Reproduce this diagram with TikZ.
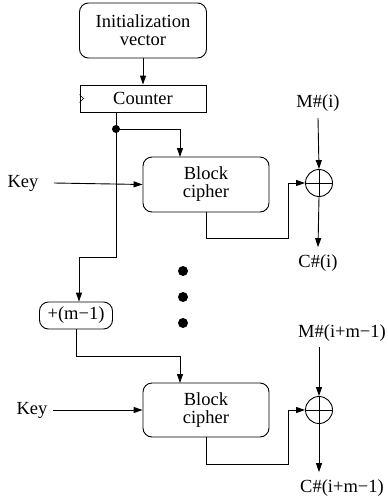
\documentclass[tikz,border=0pt]{standalone}
\usepackage{fontspec}
\setmainfont{Liberation Serif}
\usetikzlibrary{arrows.meta,calc}
\begin{document}
\begin{tikzpicture}[x=1pt,y=-1pt,
  line width=0.9pt,
  >={Triangle[length=9pt,width=6pt]},
  every node/.style={font=\fontsize{18.5}{18}\selectfont, inner sep=0pt, align=center},
  rbox/.style={draw, rounded corners=9pt},
  sbox/.style={draw},
  lbl/.style={},
  bigdot/.style={fill, circle, minimum size=10pt},
  smalldot/.style={fill, circle, minimum size=8pt},
  xorc/.style={draw, circle, minimum size=27pt}
]
\useasboundingbox (0,0) rectangle (388,501);

% nodes
\node[rbox, minimum width=127pt, minimum height=55pt] (init) at (143,30.5) {Initialization\\vector};
\node[sbox, minimum width=126pt, minimum height=27pt] (counter) at (143,98.5) {Counter};
\node[smalldot] (dot) at (116,129) {};
\node[rbox, minimum width=126pt, minimum height=55pt] (bc1) at (206,184.5) {Block\\cipher};
\node[lbl] (key1) at (23,183) {Key};
\node[xorc] (xor1) at (319,183) {};
\node[lbl] (m1) at (318,103) {M\#(i)};
\node[lbl] (c1) at (318,263) {C\#(i)};

\node[rbox, minimum width=73pt, minimum height=27pt] (plus) at (76,315.5) {+(m−1)};
\node[rbox, minimum width=126pt, minimum height=54pt] (bc2) at (206,410) {Block\\cipher};
\node[lbl] (key2) at (32,410) {Key};
\node[xorc] (xor2) at (319,410) {};
\node[lbl] (m2) at (342,333) {M\#(i+m−1)};
\node[lbl] (c2) at (342,488) {C\#(i+m−1)};

\node[bigdot] (d1) at (183,271) {};
\node[bigdot] (d2) at (183,297) {};
\node[bigdot] (d3) at (183,323) {};

% clock marker
\draw[line width=0.6pt] (counter.west) ++(0,-4) -- ++(4,4) -- ++(-4,4);

% helper coordinates
\coordinate (bc1in) at (180,157);
\coordinate (t1) at (116,257);
\coordinate (t2) at (79,257);
\coordinate (bc2in) at (180,383);
\coordinate (o1) at (288,183);
\coordinate (o2) at (288,410);

% connectors
\draw[->] (init.south) -- (counter.north);
\draw (counter.south -| dot) -- (dot.center);
\draw[->] (dot.center) -| (bc1in);
\draw[->] (dot.center) -- (t1) -- (t2) -- (t2 |- plus.north);
\draw[->] ([xshift=15pt]key1.east) -- (bc1.west);
\draw[->] (bc1.south) -- ++(0,26) -| (o1) -- (xor1.west);
\draw[->] ([yshift=-6pt]m1.south) -- (xor1.north);
\draw[->] (xor1.south) -- ([yshift=7pt]c1.north);
\draw (xor1.west) -- (xor1.east);
\draw (xor1.north) -- (xor1.south);

\draw[->] (plus.south) -- ++(0,27) -| (bc2in);
\draw[->] ([xshift=5pt]key2.east) -- (bc2.west);
\draw[->] (bc2.south) -- ++(0,27) -| (o2) -- (xor2.west);
\draw[->] ([yshift=-5pt]m2.south -| xor2) -- (xor2.north);
\draw[->] (xor2.south) -- ([yshift=7pt]c2.north -| xor2);
\draw (xor2.west) -- (xor2.east);
\draw (xor2.north) -- (xor2.south);
\end{tikzpicture}
\end{document}
